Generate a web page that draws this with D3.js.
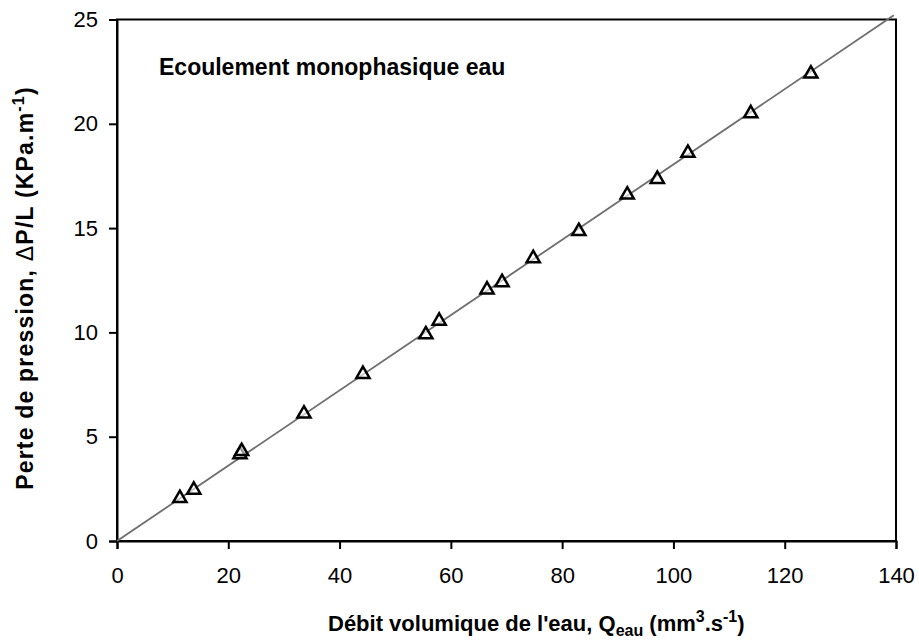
<!DOCTYPE html>
<html>
<head>
<meta charset="utf-8">
<script src="https://cdn.jsdelivr.net/npm/d3@7"></script>
<style>
  body { margin: 0; background: #fff; }
  svg { display: block; }
  text { font-family: "Liberation Sans", Arial, sans-serif; }
</style>
</head>
<body>
<svg id="chart" width="919" height="642"></svg>
<script>
// Data
const debit = [11.3, 13.8, 22.1, 22.4, 33.6, 44.2, 55.5, 57.9, 66.5, 69.2, 74.8, 83.0, 91.7, 97.1, 102.6, 113.9, 124.7];
const perte = [2.05, 2.45, 4.15, 4.3, 6.1, 8.0, 9.9, 10.55, 12.05, 12.4, 13.55, 14.85, 16.6, 17.35, 18.6, 20.5, 22.4];
const fitX = [0, 139.6];
const fitY = [0, 25.2];
const xTicks = [0, 20, 40, 60, 80, 100, 120, 140];
const yTicks = [0, 5, 10, 15, 20, 25];
const titleText = "Ecoulement monophasique eau";

const svg = d3.select("#chart");
const m = { left: 117, right: 896, top: 19.5, bottom: 541 };

const x = d3.scaleLinear().domain([0, 140]).range([m.left, m.right]);
const y = d3.scaleLinear().domain([0, 25]).range([m.bottom, m.top]);

// frame
svg.append("rect")
  .attr("x", m.left).attr("y", m.top)
  .attr("width", m.right - m.left).attr("height", m.bottom - m.top)
  .attr("fill", "none").attr("stroke", "#000").attr("stroke-width", 2);

// axes
const xAxis = svg.append("g").attr("transform", `translate(0,${m.bottom})`)
  .call(d3.axisBottom(x).tickValues(xTicks).tickSize(8).tickPadding(18).tickFormat(d3.format("d")));
const yAxis = svg.append("g").attr("transform", `translate(${m.left},0)`)
  .call(d3.axisLeft(y).tickValues(yTicks).tickSize(8).tickPadding(11).tickFormat(d3.format("d")));
[xAxis, yAxis].forEach(g => {
  g.select(".domain").attr("stroke", "#000").attr("stroke-width", 2);
  g.selectAll(".tick line").attr("stroke", "#000").attr("stroke-width", 2);
  g.selectAll(".tick text").attr("fill", "#000").style("font-size", "22px");
});

// fit line
const line = d3.line().x(d => x(d[0])).y(d => y(d[1]));
svg.append("path")
  .datum(fitX.map((v, i) => [v, fitY[i]]))
  .attr("d", line)
  .attr("fill", "none").attr("stroke", "#6e6e6e").attr("stroke-width", 1.8);

// triangle markers
const tri = d3.symbol().type(d3.symbolTriangle).size(75);
svg.append("g").selectAll("path")
  .data(debit.map((v, i) => [v, perte[i]]))
  .join("path")
  .attr("d", tri)
  .attr("transform", d => `translate(${x(d[0])},${y(d[1])})`)
  .attr("fill", "#fff").attr("fill-opacity", 0.6)
  .attr("stroke", "#000").attr("stroke-width", 2.5);

// in-plot title
svg.append("text")
  .attr("x", 159).attr("y", 75)
  .style("font-size", "23px").style("font-weight", "bold")
  .text(titleText);

// x axis title
const xt = svg.append("text")
  .attr("x", 328).attr("y", 631)
  .style("font-size", "22px").style("font-weight", "bold");
xt.append("tspan").text("Débit volumique de l'eau, Q");
xt.append("tspan").attr("dy", 5).style("font-size", "16px").text("eau");
xt.append("tspan").attr("dy", -5).text(" (mm");
xt.append("tspan").attr("dy", -9).style("font-size", "16px").text("3");
xt.append("tspan").attr("dy", 9).text(".s");
xt.append("tspan").attr("dy", -9).style("font-size", "16px").text("-1");
xt.append("tspan").attr("dy", 9).text(")");

// y axis title
const yt = svg.append("text")
  .attr("transform", `translate(33,288) rotate(-90)`)
  .attr("text-anchor", "middle")
  .style("font-size", "23px").style("font-weight", "bold")
  .style("letter-spacing", "1.2px");
yt.append("tspan").text("Perte de pression, ");
yt.append("tspan").style("font-weight", "normal").text("Δ");
yt.append("tspan").text("P/L (KPa.m");
yt.append("tspan").attr("dy", -9).style("font-size", "16px").text("-1");
yt.append("tspan").attr("dy", 9).text(")");
</script>
</body>
</html>
